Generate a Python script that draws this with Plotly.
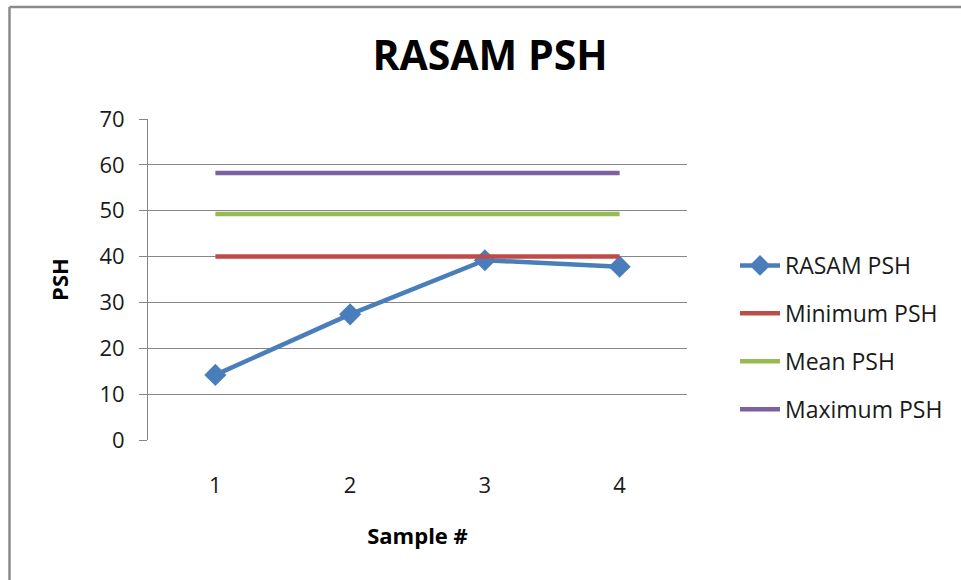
import plotly.graph_objects as go

samples = ["1", "2", "3", "4"]
rasam_psh = [14.2, 27.4, 39.2, 37.8]
minimum_psh = [40.0, 40.0, 40.0, 40.0]
mean_psh = [49.3, 49.3, 49.3, 49.3]
maximum_psh = [58.2, 58.2, 58.2, 58.2]
y_ticks = [0, 10, 20, 30, 40, 50, 60, 70]

FONT = "'Open Sans', Carlito, Calibri, Lato, sans-serif"
GRID = "#868686"

fig = go.Figure()
fig.add_trace(go.Scatter(x=samples, y=rasam_psh, name="RASAM PSH", mode="lines+markers",
                         line=dict(color="#4A7EBB", width=4.5),
                         marker=dict(symbol="diamond", size=17, color="#4A7EBB"),
                         legendgroup="a"))
fig.add_trace(go.Scatter(x=samples, y=minimum_psh, name="Minimum PSH", mode="lines",
                         line=dict(color="#BE4B48", width=4.5), legendgroup="b"))
fig.add_trace(go.Scatter(x=samples, y=mean_psh, name="Mean PSH", mode="lines",
                         line=dict(color="#98B954", width=4.5), legendgroup="c"))
fig.add_trace(go.Scatter(x=samples, y=maximum_psh, name="Maximum PSH", mode="lines",
                         line=dict(color="#7D60A0", width=4.5), legendgroup="d"))

L, R, T, B = 148, 961 - 687, 119, 580 - 440
pw, ph = 961 - L - R, 580 - T - B

def px(x):
    return (x - L) / pw

def py(y):
    return (580 - B - y) / ph

fig.update_layout(
    width=961, height=580,
    margin=dict(l=L, r=R, t=T, b=B, autoexpand=False),
    paper_bgcolor="white", plot_bgcolor="white",
    font=dict(family=FONT, size=22, color="#1a1a1a"),
    title=dict(text="<b>RASAM PSH</b>", x=490 / 961, xanchor="center",
               y=1 - 56 / 580, yanchor="middle",
               font=dict(family=FONT, size=41, color="black")),
    showlegend=True,
    legend=dict(x=px(735), xanchor="left", y=py(244), yanchor="top",
                traceorder="grouped", tracegroupgap=15,
                font=dict(family=FONT, size=23, color="#1a1a1a"),
                bgcolor="rgba(0,0,0,0)", itemwidth=40),
    xaxis=dict(type="category", range=[-0.5, 3.5], showgrid=False,
               showline=False, ticks="", ticklabelstandoff=30,
               tickfont=dict(size=22),
               title=dict(text="<b>Sample #</b>", standoff=30,
                          font=dict(family=FONT, size=22, color="black")),
               zeroline=False, fixedrange=True),
    yaxis=dict(range=[0, 70], tickvals=y_ticks, showgrid=True, gridcolor=GRID,
               gridwidth=1, showline=True, linecolor=GRID, linewidth=1,
               ticks="outside", ticklen=8, tickcolor=GRID, ticklabelstandoff=10,
               tickfont=dict(size=22),
               zeroline=False,
               title=dict(text="<b>PSH</b>", standoff=24,
                          font=dict(family=FONT, size=22, color="black"))),
)

# chart-area border (top and left edges visible)
fig.add_shape(type="line", xref="paper", yref="paper",
              x0=px(9.5), x1=px(961), y0=py(7), y1=py(7),
              line=dict(color="#8a8a8a", width=2.5))
fig.add_shape(type="line", xref="paper", yref="paper",
              x0=px(9.5), x1=px(9.5), y0=py(7), y1=py(580),
              line=dict(color="#8a8a8a", width=2.5))

fig.write_html("out.html", config={"displayModeBar": False},
               post_script="document.body.style.margin='0';")
